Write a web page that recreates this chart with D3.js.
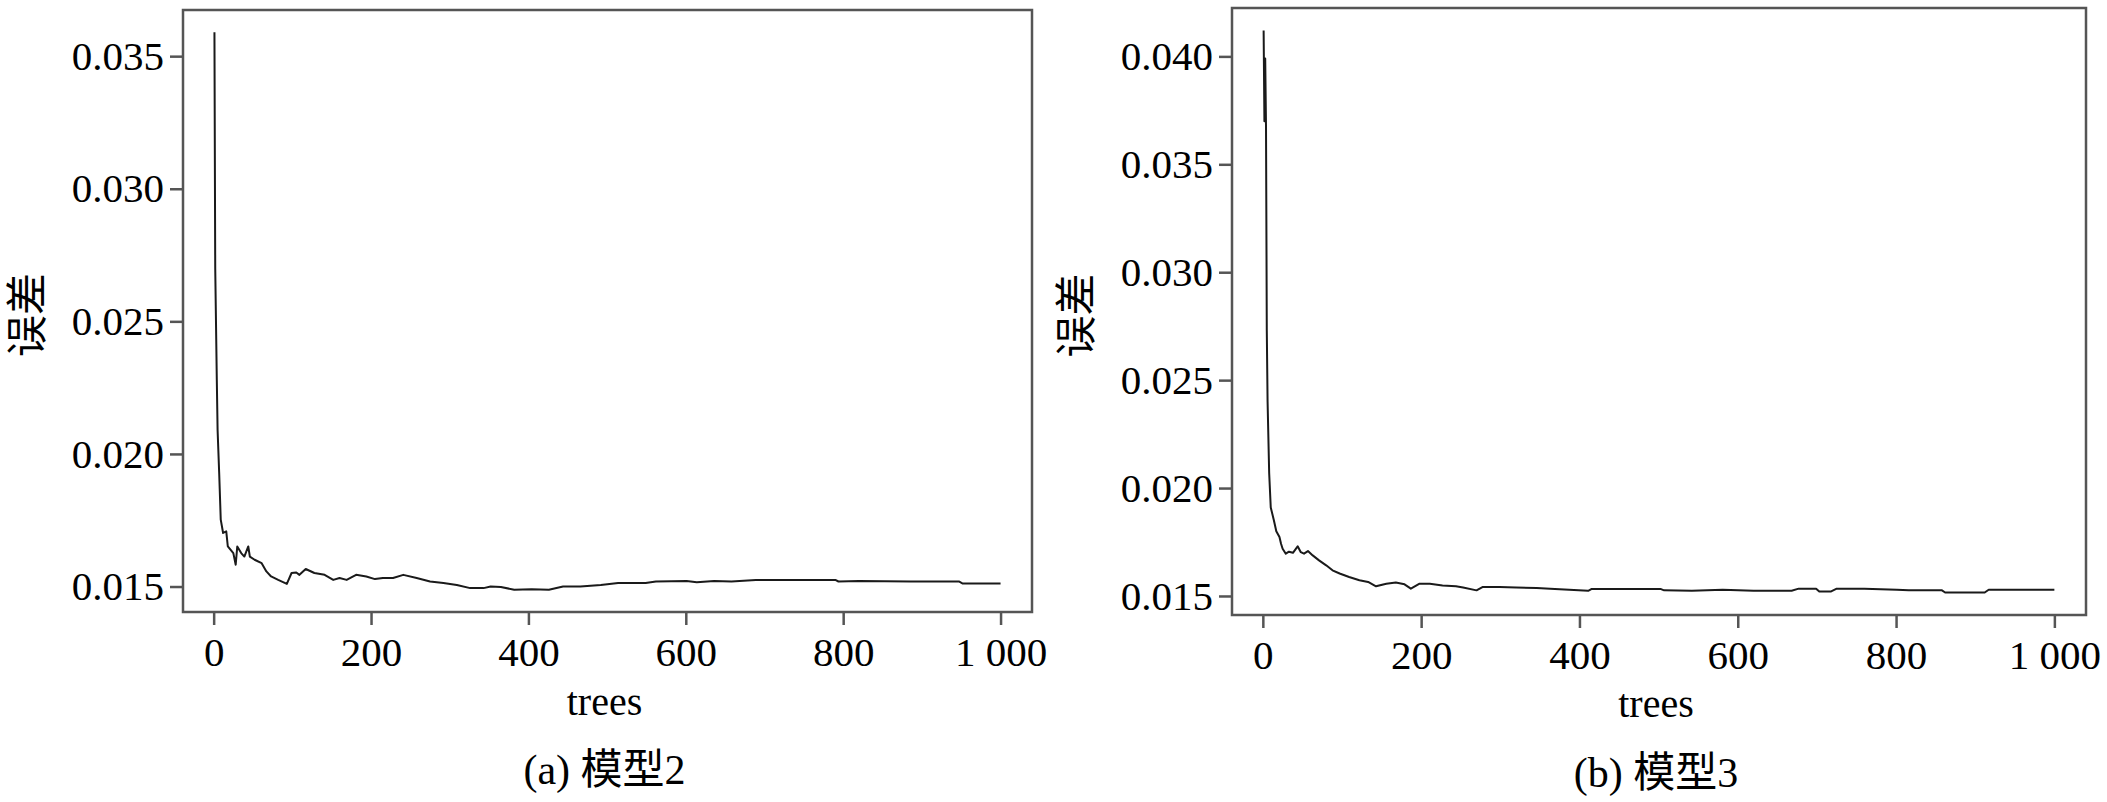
<!DOCTYPE html>
<html>
<head>
<meta charset="utf-8">
<script src="https://cdn.jsdelivr.net/npm/d3@7"></script>
<style>
body { margin: 0; background: #fff; }
svg text { font-family: "Liberation Serif", "Times New Roman", "Noto Sans CJK SC", serif; fill: #000; }
</style>
</head>
<body>
<svg id="chart"></svg>
<script>
// 模型2 (a) : 误差 vs trees
var treesA = [1, 2, 4, 5, 7, 9, 12, 16, 18, 25, 28, 30, 35, 39, 44, 46, 52, 61, 67, 73, 82, 93, 99,
    105, 109, 117, 128, 141, 152, 160, 169, 181, 194, 205, 215, 228, 241, 258, 275, 292, 309, 326,
    343, 352, 365, 382, 404, 426, 444, 466, 492, 514, 549, 562, 601, 614, 636, 658, 689, 702, 790,
    794, 820, 886, 947, 952, 1000];
var errorA = [0.0359, 0.0270, 0.0228, 0.0209, 0.0193, 0.01752, 0.01702, 0.01708, 0.01651, 0.01626,
    0.01582, 0.01651, 0.01626, 0.01613, 0.01651, 0.01613, 0.01601, 0.01588, 0.01557, 0.01538, 0.01525,
    0.0151, 0.01551, 0.01553, 0.01544, 0.01566, 0.01551, 0.01544, 0.01525, 0.01532, 0.01525, 0.01544,
    0.01538, 0.01528, 0.01532, 0.01532, 0.01544, 0.01532, 0.01519, 0.01513, 0.01506, 0.01494, 0.01494,
    0.0150, 0.01498, 0.01488, 0.0149, 0.01488, 0.0150, 0.0150, 0.01506, 0.01513, 0.01513, 0.01519,
    0.01521, 0.01516, 0.01521, 0.01519, 0.01525, 0.01525, 0.01525, 0.01519, 0.01521, 0.01519, 0.01519,
    0.01511, 0.01511];

// 模型3 (b)
var treesB = [1, 2, 3, 4, 5, 6, 8, 10, 14, 17, 21, 23, 25, 29, 33, 38, 44, 48, 52, 57, 63, 71, 80,
    88, 97, 109, 122, 133, 143, 156, 168, 179, 187, 198, 211, 227, 244, 253, 270, 278, 299, 320, 346,
    363, 411, 415, 503, 507, 542, 581, 620, 668, 677, 699, 703, 718, 725, 760, 801, 816, 858, 862,
    912, 917, 1000];
var errorB = [0.0412, 0.0370, 0.0399, 0.0368, 0.0273, 0.0240, 0.0207, 0.0191, 0.0185, 0.0180,
    0.01773, 0.01742, 0.01719, 0.01696, 0.01705, 0.01700, 0.0173, 0.01703, 0.01696, 0.01708, 0.01688,
    0.01665, 0.01642, 0.01619, 0.01604, 0.01588, 0.01573, 0.01565, 0.01545, 0.01557, 0.01562, 0.01554,
    0.01534, 0.01557, 0.01557, 0.01549, 0.01545, 0.01539, 0.01526, 0.01542, 0.01542, 0.01539, 0.01537,
    0.01534, 0.01524, 0.01532, 0.01532, 0.01526, 0.01524, 0.01529, 0.01524, 0.01524, 0.01534, 0.01534,
    0.01521, 0.01521, 0.01534, 0.01534, 0.01529, 0.01526, 0.01526, 0.01516, 0.01516, 0.01529, 0.01529];

var xTicks = [0, 200, 400, 600, 800, 1000];
var xTickLabels = ["0", "200", "400", "600", "800", "1 000"];
var yTicksA = [0.015, 0.020, 0.025, 0.030, 0.035];
var yTicksB = [0.015, 0.020, 0.025, 0.030, 0.035, 0.040];
var xTitle = "trees";
var yTitle = "误差";
var captions = ["(a) 模型2", "(b) 模型3"];

var W = 2107, H = 802;
var svg = d3.select("#chart").attr("width", W).attr("height", H);

var panels = [
    {trees: treesA, err: errorA, yTicks: yTicksA, caption: captions[0],
     box: {l: 183, t: 10, r: 1032, b: 612}, yLabX: 27, xLabY: 715, capY: 784},
    {trees: treesB, err: errorB, yTicks: yTicksB, caption: captions[1],
     box: {l: 1232, t: 8, r: 2086, b: 615}, yLabX: 1076, xLabY: 717, capY: 787}
];

panels.forEach(function(p) {
    var g = svg.append("g");
    var b = p.box;

    // SPSS風に範囲の4%ずつ余白
    var xe = d3.extent(p.trees), xpad = (xe[1] - xe[0]) * 0.04;
    var x = d3.scaleLinear().domain([xe[0] - xpad, xe[1] + xpad]).range([b.l, b.r]);
    var ye = d3.extent(p.err), ypad = (ye[1] - ye[0]) * 0.04;
    var y = d3.scaleLinear().domain([ye[0] - ypad, ye[1] + ypad]).range([b.b, b.t]);

    var yAxis = g.append("g")
        .attr("transform", "translate(" + b.l + ",0)")
        .call(d3.axisLeft(y).tickValues(p.yTicks).tickSize(13).tickPadding(6)
            .tickFormat(d3.format(".3f")));
    var xAxis = g.append("g")
        .attr("transform", "translate(0," + b.b + ")")
        .call(d3.axisBottom(x).tickValues(xTicks).tickSize(13).tickPadding(12)
            .tickFormat(function(d, i) { return xTickLabels[i]; }));

    [yAxis, xAxis].forEach(function(a) {
        a.attr("font-family", null).attr("font-size", null);
        a.select(".domain").remove();
        a.selectAll(".tick line").attr("stroke", "#555").attr("stroke-width", 2.5);
        a.selectAll(".tick text").attr("fill", "#000").style("font-size", "41px");
    });

    // 枠
    g.append("rect")
        .attr("x", b.l).attr("y", b.t)
        .attr("width", b.r - b.l).attr("height", b.b - b.t)
        .attr("fill", "none").attr("stroke", "#555").attr("stroke-width", 2.5);

    var line = d3.line()
        .x(function(d, i) { return x(p.trees[i]); })
        .y(function(d) { return y(d); });

    g.append("path")
        .datum(p.err)
        .attr("d", line)
        .attr("fill", "none")
        .attr("stroke", "#1a1a1a")
        .attr("stroke-width", 2)
        .attr("stroke-linejoin", "round");

    var cx = (b.l + b.r) / 2 - 3;
    g.append("text")
        .attr("x", cx).attr("y", p.xLabY)
        .attr("text-anchor", "middle")
        .style("font-size", "40px")
        .text(xTitle);

    g.append("text")
        .attr("transform", "translate(" + p.yLabX + "," + ((b.t + b.b) / 2 + 4) + ") rotate(-90)")
        .attr("text-anchor", "middle")
        .attr("dy", "0.35em")
        .style("font-size", "42px")
        .text(yTitle);

    g.append("text")
        .attr("x", cx).attr("y", p.capY)
        .attr("text-anchor", "middle")
        .style("font-size", "42px")
        .text(p.caption);
});
</script>
</body>
</html>
